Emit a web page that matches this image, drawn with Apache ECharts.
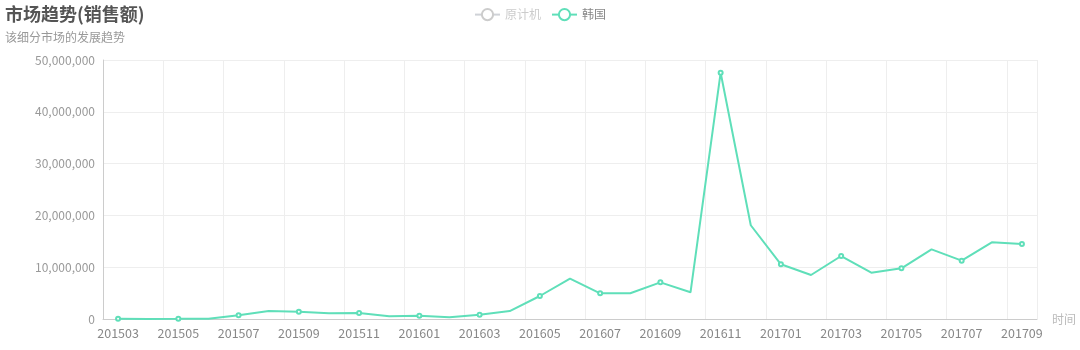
<!DOCTYPE html>
<html>
<head>
<meta charset="utf-8">
<script src="https://cdn.jsdelivr.net/npm/echarts@6/dist/echarts.min.js"></script>
<style>html,body{margin:0;padding:0;background:#fff}#c{width:1080px;height:350px}</style>
</head>
<body>
<div id="c"></div>
<script>
var categories = ['201503','201504','201505','201506','201507','201508','201509','201510','201511','201512',
  '201601','201602','201603','201604','201605','201606','201607','201608','201609','201610','201611','201612',
  '201701','201702','201703','201704','201705','201706','201707','201708','201709'];
var koreaValues = [30000, 20000, 30000, 50000, 710000, 1540000, 1410000, 1100000, 1160000, 520000,
  640000, 320000, 840000, 1540000, 4440000, 7780000, 4960000, 4960000, 7080000, 5150000, 47550000, 18100000,
  10560000, 8490000, 12160000, 8940000, 9780000, 13450000, 11260000, 14800000, 14480000];
var otherValues = [];
var seriesNames = ['原计机', '韩国'];

var chart = echarts.init(document.getElementById('c'));
var font = '"Noto Sans CJK SC", "Microsoft YaHei", sans-serif';
chart.setOption({
  animation: false,
  textStyle: {fontFamily: font},
  title: {
    text: '市场趋势(销售额)',
    subtext: '该细分市场的发展趋势',
    left: 0, top: 0,
    textStyle: {fontSize: 18, fontWeight: 'bold', color: '#555', fontFamily: font},
    subtextStyle: {fontSize: 12, color: '#999', fontFamily: font},
    itemGap: 8
  },
  legend: {
    data: seriesNames,
    top: 3,
    left: 'center',
    itemGap: 10,
    inactiveColor: '#ccc',
    selected: {'原计机': false},
    textStyle: {color: '#888', fontSize: 12, fontFamily: font}
  },
  grid: {left: 103, right: 43, top: 60, bottom: 31},
  xAxis: {
    type: 'category',
    data: categories,
    name: '时间',
    nameTextStyle: {color: '#bbb', fontSize: 12},
    axisLine: {lineStyle: {color: '#ccc'}},
    axisTick: {show: false},
    axisLabel: {interval: 1, color: '#888', fontSize: 12.5},
    splitLine: {show: true, interval: 1, lineStyle: {color: '#eee'}}
  },
  yAxis: {
    type: 'value',
    min: 0, max: 50000000, interval: 10000000,
    axisLine: {show: true, lineStyle: {color: '#ccc'}},
    axisTick: {show: false},
    axisLabel: {color: '#999', fontSize: 12, formatter: function(v){ return echarts.format.addCommas(v); }},
    splitLine: {lineStyle: {color: '#eee'}}
  },
  series: [
    {name: '原计机', type: 'line', data: otherValues, itemStyle: {color: '#c23531'}},
    {name: '韩国', type: 'line', data: koreaValues, symbol: 'emptyCircle', symbolSize: 4,
     showAllSymbol: false,
     itemStyle: {color: '#5fdfb9'}, lineStyle: {color: '#5fdfb9', width: 2}}
  ]
});
</script>
</body>
</html>
